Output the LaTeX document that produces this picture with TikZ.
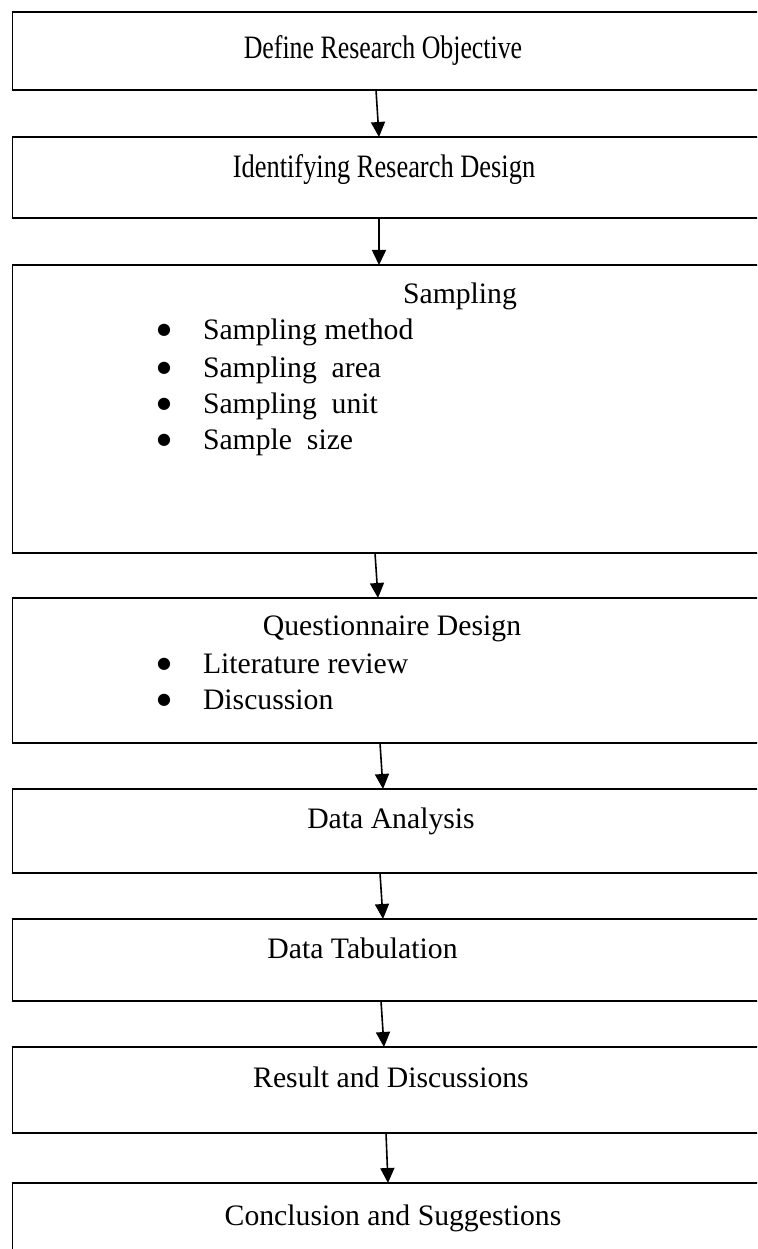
\documentclass[tikz,border=0pt]{standalone}
\usepackage{fontspec}
\setmainfont{Liberation Serif}
\newfontfamily\dejavu{DejaVu Sans}
\usetikzlibrary{arrows.meta,calc}
\begin{document}
\begin{tikzpicture}[x=1pt,y=-1pt,
  stagebox/.style={draw=black,line width=1.6pt,rectangle,inner sep=0pt,outer sep=0pt,
    minimum width=800pt,anchor=north west},
  lbl/.style={inner sep=0pt,outer sep=0pt,anchor=base,font=\fontsize{29.7pt}{36pt}\selectfont},
  item/.style={lbl,anchor=base west},
  bul/.style={inner sep=0pt,outer sep=0pt,anchor=center,font=\dejavu\fontsize{16pt}{16pt}\selectfont},
  arr/.style={line width=1.6pt,-{Triangle[width=14pt,length=15pt]}}]
\useasboundingbox (0,0) rectangle (757,1249);
\fill[white] (0,0) rectangle (757,1249);
\clip (0,0) rectangle (757,1249);
% boxes
\node[stagebox,minimum height=78pt]  (b1) at (12.5,12) {};
\node[stagebox,minimum height=81pt]  (b2) at (12.5,137) {};
\node[stagebox,minimum height=288pt] (b3) at (12.5,265) {};
\node[stagebox,minimum height=145pt] (b4) at (12.5,598) {};
\node[stagebox,minimum height=84pt]  (b5) at (12.5,789) {};
\node[stagebox,minimum height=82pt]  (b6) at (12.5,919) {};
\node[stagebox,minimum height=86pt]  (b7) at (12.5,1047) {};
\node[stagebox,minimum height=120pt] (b8) at (12.5,1183) {};
% texts
\node[lbl] (t1) at (383,59) {\scalebox{0.87}[1.1]{Define Research Objective}};
\node[lbl] (t2) at (384,178) {\scalebox{0.89}[1.1]{Identifying Research Design}};
\node[lbl] (t3) at (460,303) {Sampling};
\node[bul] (u31) at (164,330) {●};
\node[item] (i31) at (203,339) {Sampling method};
\node[bul] (u32) at (164,368) {●};
\node[item] (i32) at (203,377) {Sampling\ \ area};
\node[bul] (u33) at (164,404) {●};
\node[item] (i33) at (203,413) {Sampling\ \ unit};
\node[bul] (u34) at (164,440) {●};
\node[item] (i34) at (203,449) {Sample\ \ size};
\node[lbl] (t4) at (392,635) {Questionnaire Design};
\node[bul] (u41) at (164,664) {●};
\node[item] (i41) at (203,673) {Literature review};
\node[bul] (u42) at (164,700) {●};
\node[item] (i42) at (203,709) {Discussion};
\node[lbl] (t5) at (391,828) {Data Analysis};
\node[lbl] (t6) at (362.5,958) {Data Tabulation};
\node[lbl] (t7) at (391,1087) {Result and Discussions};
\node[lbl] (t8) at (393,1225) {Conclusion and Suggestions};
% connectors
\draw[arr] ($(b1.south west)+(363.5,0)$) -- ($(b2.north west)+(366.5,0)$);
\draw[arr] ($(b2.south west)+(366.5,0)$) -- ($(b3.north west)+(366.5,0)$);
\draw[arr] ($(b3.south west)+(362.5,0)$) -- ($(b4.north west)+(365.5,0)$);
\draw[arr] ($(b4.south west)+(367.5,0)$) -- ($(b5.north west)+(370.5,0)$);
\draw[arr] ($(b5.south west)+(367.5,0)$) -- ($(b6.north west)+(370.5,0)$);
\draw[arr] ($(b6.south west)+(368.5,0)$) -- ($(b7.north west)+(371.5,0)$);
\draw[arr] ($(b7.south west)+(373.5,0)$) -- ($(b8.north west)+(375.5,0)$);
\end{tikzpicture}
\end{document}
